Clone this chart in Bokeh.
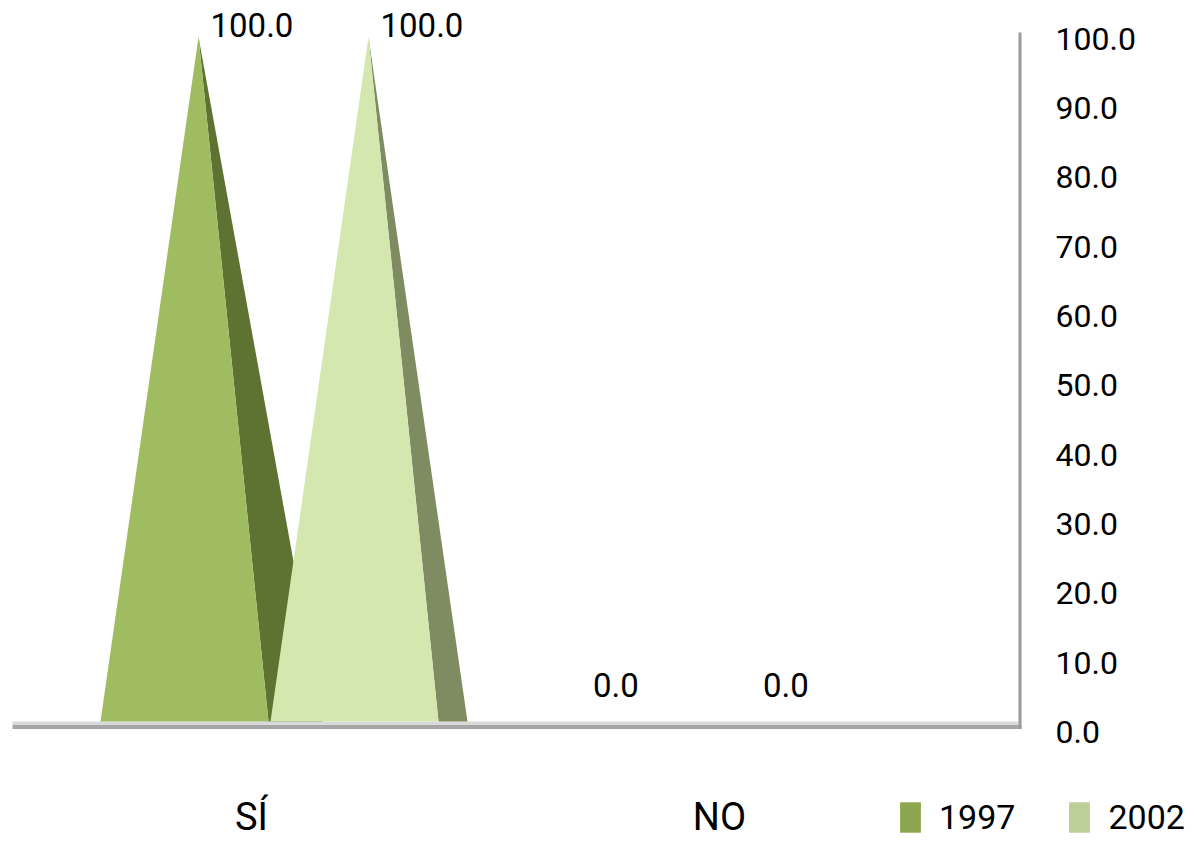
from bokeh.plotting import figure
from bokeh.models import (Range1d, LinearAxis, FixedTicker, Legend, LegendItem,
                          PrintfTickFormatter, ColumnDataSource)
from bokeh.core.properties import value
from bokeh.embed import file_html
from bokeh.resources import INLINE

# ---------------- data ----------------
categories = ["SÍ", "NO"]
series_names = ["1997", "2002"]
values_1997 = [100.0, 0.0]
values_2002 = [100.0, 0.0]
y_ticks = [0, 10, 20, 30, 40, 50, 60, 70, 80, 90, 100]

# ---------------- style / layout ----------------
FONT = "Roboto"
W, H = 1196, 842
FRONT_COLORS = ["#9FBC61", "#D3E7AF"]
SIDE_COLORS = ["#5E7332", "#7F8C62"]
LEGEND_COLORS = ["#8BA64E", "#BBCF96"]

Y0_PX, PX_PER_UNIT = 721.0, 6.845          # cone baseline and scale
AX0_PX, AX_PX_PER_UNIT = 731.5, 6.935      # tick-label scale (3D offset)


def yv(py):
    return (Y0_PX - py) / PX_PER_UNIT


GROUP_X = [283.0, 665.5]      # cone group centres
LABEL_X = [251, 719]          # category label centres (3D projection)
SERIES_DX = [-85.0, 85.0]     # apex offset of each series in the group
FRONT_L, FRONT_R = 98.0, 70.0
SIDE_W = [124.0, 99.0]
WALL_X = 1021

p = figure(width=W, height=H, output_backend="svg", toolbar_location=None,
           x_range=Range1d(0, W), y_range=Range1d(yv(H), yv(0)),
           x_axis_type=None, y_axis_type=None,
           min_border_left=0, min_border_top=0, min_border_bottom=0, min_border_right=0)
p.outline_line_color = None
p.background_fill_color = "white"
p.border_fill_color = "white"

# right value axis (drawn at the back wall)
p.extra_y_ranges = {"axis": Range1d((AX0_PX - H) / AX_PX_PER_UNIT, AX0_PX / AX_PX_PER_UNIT)}
yax = LinearAxis(y_range_name="axis", ticker=FixedTicker(ticks=y_ticks),
                 formatter=PrintfTickFormatter(format="%.1f"), fixed_location=WALL_X)
yax.axis_line_color = None
yax.major_tick_line_color = None
yax.minor_tick_line_color = None
yax.major_tick_out = 0
yax.major_tick_in = 0
yax.major_label_standoff = 34
yax.major_label_text_font = FONT
yax.major_label_text_font_size = "32px"
yax.major_label_text_color = "black"
p.add_layout(yax, "right")

# category axis
xax = LinearAxis(ticker=FixedTicker(ticks=LABEL_X),
                 major_label_overrides={x: c for x, c in zip(LABEL_X, categories)},
                 fixed_location=0)
xax.axis_line_color = None
xax.major_tick_line_color = None
xax.minor_tick_line_color = None
xax.major_tick_out = 0
xax.major_tick_in = 0
xax.major_label_standoff = 73
xax.major_label_text_font = FONT
xax.major_label_text_font_size = "38px"
xax.major_label_text_color = "black"
p.add_layout(xax, "below")

# floor and back wall
p.quad(left=[12], right=[WALL_X - 3], bottom=[yv(724.5)], top=[0], fill_color="#D9D9D9", line_color=None)
p.quad(left=[12], right=[WALL_X], bottom=[yv(728.5)], top=[yv(724.5)], fill_color="#A6A6A6", line_color=None)
p.segment(x0=[WALL_X - 1.5], y0=[yv(728.5)], x1=[WALL_X - 1.5], y1=[yv(32)],
          line_color="#9A9A9A", line_width=3)

# cones
all_values = [values_1997, values_2002]
for s, vals in enumerate(all_values):
    apex = [GROUP_X[i] + SERIES_DX[s] for i in range(len(categories))]
    side_xs = [[a + FRONT_R, a + SIDE_W[s], a] for a in apex]
    side_ys = [[0, 0, v] for v in vals]
    front_xs = [[a - FRONT_L, a + FRONT_R, a] for a in apex]
    front_ys = [[0, 0, v] for v in vals]
    p.patches(xs=side_xs, ys=side_ys, fill_color=SIDE_COLORS[s], line_color=None)
    p.patches(xs=front_xs, ys=front_ys, fill_color=FRONT_COLORS[s], line_color=None)

# data labels
lx, ly, lt, loff = [], [], [], []
for s, vals in enumerate(all_values):
    for i, v in enumerate(vals):
        lx.append(GROUP_X[i] + SERIES_DX[s] + 12)
        ly.append(v)
        lt.append(f"{v:.1f}")
        loff.append(-12.5 if v > 0 else -37)
src = ColumnDataSource(dict(x=lx, y=ly, t=lt, off=loff))
p.text(x="x", y="y", text="t", y_offset="off", source=src, text_align="left",
       text_baseline="middle", text_font=value(FONT), text_font_size="33px",
       text_color="black")

# legend (swatch-only renderers, nothing drawn in the plot area)
nan = float("nan")
leg_r = [p.quad(left=[nan], right=[nan], top=[nan], bottom=[nan], fill_color=c, line_color=None)
         for c in LEGEND_COLORS]
legend = Legend(items=[LegendItem(label=n, renderers=[r]) for n, r in zip(series_names, leg_r)],
                orientation="horizontal", location=(897, 5),
                glyph_width=26, glyph_height=38, label_standoff=16, spacing=51,
                padding=0, margin=0, border_line_color=None, background_fill_alpha=0,
                label_text_font=FONT, label_text_font_size="34px", label_text_color="black")
p.add_layout(legend)

open("out.html", "w").write(file_html(p, INLINE))
